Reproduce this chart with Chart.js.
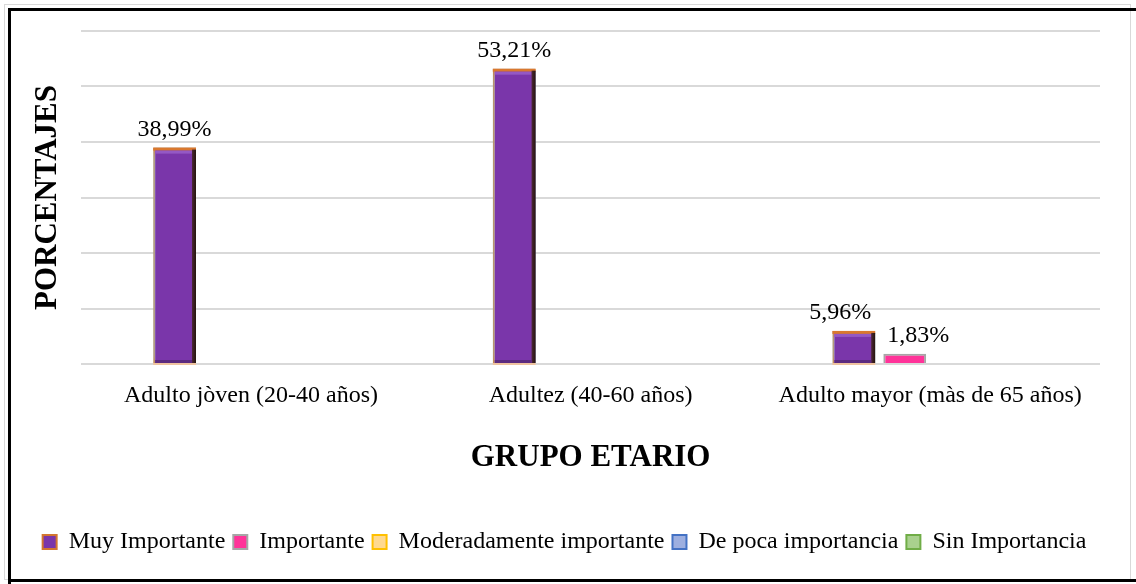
<!DOCTYPE html>
<html>
<head>
<meta charset="utf-8">
<script src="https://cdn.jsdelivr.net/npm/chart.js@4.4.1/dist/chart.umd.min.js"></script>
<style>
    html, body { margin: 0; padding: 0; background: #fff; }
    #wrap { position: absolute; left: 0; top: 0; width: 1136px; height: 584px; }
    .line { position: absolute; pointer-events: none; }
</style>
</head>
<body>
<div id="wrap"><canvas id="chart"></canvas></div>
<!-- frame round the chart -->
<div class="line" style="left:4px;top:4px;width:1125px;height:574px;border:1px solid #d9d9d9;"></div>
<div class="line" style="left:8px;top:8px;width:3px;height:576px;background:#000;"></div>
<div class="line" style="left:8px;top:8px;width:1128px;height:3px;background:#000;"></div>
<div class="line" style="left:8px;top:579px;width:1128px;height:3px;background:#000;"></div>
<script>
const categories = ['Adulto jòven (20-40 años)', 'Adultez (40-60 años)', 'Adulto mayor (màs de 65 años)'];
const muyImportante = [38.99, 53.21, 5.96];
const importante = [0, 0, 1.83];
const moderadamente = [0, 0, 0];
const depoca = [0, 0, 0];
const sinImportancia = [null, null, null];
const yTicks = [0, 10, 20, 30, 40, 50, 60];

const FONT = "'Liberation Serif', 'Times New Roman', serif";

// glow + bevel on the purple bars
const bevelPlugin = {
    id: 'bevel',
    beforeDatasetDraw(chart, args) {
        if (args.index !== 0) return;
        const ctx = chart.ctx;
        ctx.save();
        ctx.shadowColor = 'rgba(130, 215, 255, 0.9)';
        ctx.shadowBlur = 9;
    },
    afterDatasetDraw(chart, args) {
        if (args.index !== 0) return;
        const ctx = chart.ctx;
        ctx.restore();
        args.meta.data.forEach(bar => {
            const l = bar.x - bar.width / 2, r = bar.x + bar.width / 2;
            const t = bar.y, b = bar.base;
            ctx.save();
            // orange top edge
            ctx.fillStyle = '#d9782f';
            ctx.fillRect(l, t, r - l, 3);
            // light inner top band
            ctx.fillStyle = '#9458c4';
            ctx.fillRect(l + 2, t + 3, r - l - 6, 3);
            // dark right side
            const g = ctx.createLinearGradient(r - 4, 0, r, 0);
            g.addColorStop(0, '#4e2838');
            g.addColorStop(1, '#24140c');
            ctx.fillStyle = g;
            ctx.fillRect(r - 4, t + 2, 4, b - t - 2);
            // dark bottom band
            ctx.fillStyle = '#5b2a80';
            ctx.fillRect(l + 2, b - 3, r - l - 6, 3);
            // peach line under the bar
            ctx.fillStyle = '#efc3a0';
            ctx.fillRect(l, b, r - l, 2);
            ctx.restore();
        });
    }
};

// value labels above bars, pushed apart when they collide
const valueLabels = {
    id: 'valueLabels',
    afterDatasetsDraw(chart) {
        const ctx = chart.ctx;
        ctx.save();
        ctx.font = '24px ' + FONT;
        ctx.fillStyle = '#000';
        ctx.textAlign = 'center';
        ctx.textBaseline = 'bottom';
        const items = [];
        chart.data.datasets.forEach((ds, i) => {
            const meta = chart.getDatasetMeta(i);
            meta.data.forEach((bar, j) => {
                const v = ds.data[j];
                if (!v) return;
                const text = v.toFixed(2).replace('.', ',') + '%';
                items.push({ text, x: bar.x, y: bar.y - 6, w: ctx.measureText(text).width, j });
            });
        });
        items.sort((a, b) => a.x - b.x);
        for (let k = 1; k < items.length; k++) {
            const a = items[k - 1], b = items[k];
            if (a.j !== b.j) continue;
            const overlap = (a.x + a.w / 2 + 16) - (b.x - b.w / 2);
            if (overlap > 0) {
                a.x -= overlap / 2;
                b.x += overlap / 2;
                b.y = Math.min(b.y, a.y + 26);
            }
        }
        items.forEach(it => ctx.fillText(it.text, it.x, it.y));
        ctx.restore();
    }
};

new Chart(document.getElementById('chart'), {
    type: 'bar',
    data: {
        labels: categories,
        datasets: [
            {
                label: 'Muy Importante',
                data: muyImportante,
                backgroundColor: '#7a36aa',
                borderColor: '#d37630',
                borderWidth: { top: 2, left: 2, right: 0, bottom: 0 },
                borderSkipped: false
            },
            {
                label: 'Importante',
                data: importante,
                backgroundColor: '#ff3399',
                borderColor: '#a6a6a6',
                borderWidth: 2
            },
            {
                label: 'Moderadamente importante',
                data: moderadamente,
                backgroundColor: '#ffd98f',
                borderColor: '#ffc000',
                borderWidth: 0
            },
            {
                label: 'De poca importancia',
                data: depoca,
                backgroundColor: '#9dafe0',
                borderColor: '#4472c4',
                borderWidth: 0
            },
            {
                label: 'Sin Importancia',
                data: sinImportancia,
                backgroundColor: '#a9d18e',
                borderColor: '#70ad47',
                borderWidth: 0
            }
        ]
    },
    options: {
        responsive: true,
        maintainAspectRatio: false,
        animation: false,
        skipNull: true,
        categoryPercentage: 0.6,
        barPercentage: 0.84,
        layout: { padding: { left: 29, right: 36, top: 31, bottom: 20 } },
        plugins: {
            tooltip: { enabled: false },
            legend: {
                position: 'bottom',
                labels: {
                    font: { family: FONT, size: 24 },
                    color: '#000',
                    boxWidth: 14,
                    boxHeight: 14,
                    padding: 8,
                    generateLabels(chart) {
                        return chart.data.datasets.map((ds, i) => ({
                            text: ds.label,
                            fillStyle: ds.backgroundColor,
                            strokeStyle: ds.borderColor,
                            lineWidth: 2,
                            hidden: false,
                            datasetIndex: i
                        }));
                    }
                }
            }
        },
        scales: {
            x: {
                grid: { display: false, drawTicks: false },
                border: { display: false },
                ticks: { font: { family: FONT, size: 24 }, color: '#000', padding: 17 },
                title: {
                    display: true,
                    text: 'GRUPO ETARIO',
                    font: { family: FONT, size: 31, weight: 'bold' },
                    color: '#000',
                    padding: { top: 13, bottom: 45 }
                }
            },
            y: {
                min: yTicks[0],
                max: yTicks[yTicks.length - 1],
                ticks: { display: false, stepSize: yTicks[1] - yTicks[0] },
                grid: { color: '#d9d9d9', lineWidth: 2, drawTicks: false },
                border: { display: false },
                title: {
                    display: true,
                    text: 'PORCENTAJES',
                    font: { family: FONT, size: 31, weight: 'bold' },
                    color: '#000',
                    padding: { top: 0, bottom: 15 }
                }
            }
        }
    },
    plugins: [bevelPlugin, valueLabels]
});
</script>
</body>
</html>
